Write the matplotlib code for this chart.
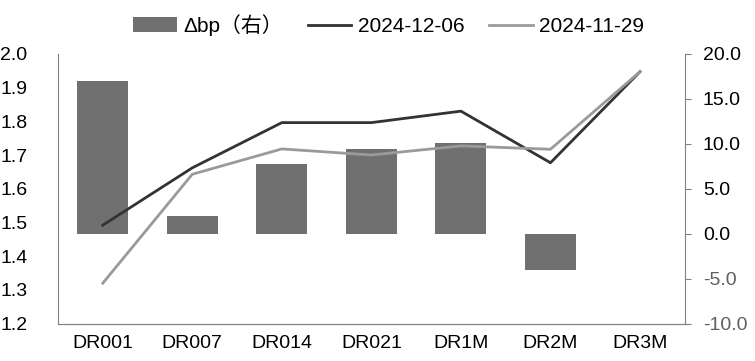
import numpy as np
from matplotlib import pyplot as plt

plt.rcParams['font.family'] = ['Liberation Sans', 'Noto Sans CJK SC', 'DejaVu Sans']
plt.rcParams['font.size'] = 14

# data
tenors = ['DR001', 'DR007', 'DR014', 'DR021', 'DR1M', 'DR2M', 'DR3M']
rate_1206 = [1.492, 1.662, 1.796, 1.796, 1.830, 1.677, 1.947]
rate_1129 = [1.320, 1.643, 1.718, 1.700, 1.727, 1.717, 1.947]
delta_bp = [17.0, 2.0, 7.7, 9.4, 10.1, -4.0, 0.0]

left_ticks = [1.2, 1.3, 1.4, 1.5, 1.6, 1.7, 1.8, 1.9, 2.0]
right_ticks = [-10, -5, 0, 5, 10, 15, 20]

fig = plt.figure(figsize=(7.55, 3.61), dpi=100)
ax = fig.add_axes([0.0768, 0.1033, 0.8302, 0.7477])
ax2 = ax.twinx()

x = np.arange(len(tenors))

# bars on right axis, drawn behind lines
ax2.bar(x, delta_bp, width=0.57, color='#707070', label='Δbp（右）', zorder=1)
ax2.set_ylim(-10, 20)
ax2.set_yticks(right_ticks)
ax2.set_yticklabels(['%.1f' % v for v in right_ticks])
for lbl, v in zip(ax2.get_yticklabels(), right_ticks):
    if v < 0:
        lbl.set_color('#606060')

ax.set_zorder(ax2.get_zorder() + 1)
ax.patch.set_visible(False)
l1, = ax.plot(x, rate_1206, color='#333333', lw=2.0, label='2024-12-06')
l2, = ax.plot(x, rate_1129, color='#9a9a9a', lw=2.0, label='2024-11-29')
ax.set_ylim(1.2, 2.0)
ax.set_yticks(left_ticks)
ax.set_yticklabels(['%.1f' % v for v in left_ticks])
ax.set_xlim(-0.5, len(tenors) - 0.5)
ax.set_xticks(x)
ax.set_xticklabels(tenors)

ax.tick_params(axis='y', length=0, pad=22)
ax.tick_params(axis='x', length=0, pad=8)
ax2.tick_params(axis='y', length=4, color='#808080', pad=9)

for a in (ax, ax2):
    a.spines['top'].set_visible(False)
    a.spines['left'].set_color('#808080')
    a.spines['right'].set_color('#808080')
    a.spines['bottom'].set_color('#808080')
ax.spines['right'].set_visible(False)
ax2.spines['left'].set_visible(False)

h2, lab2 = ax2.get_legend_handles_labels()
fig.legend(h2 + [l1, l2], lab2 + ['2024-12-06', '2024-11-29'],
           loc='center', bbox_to_anchor=(0.5146, 0.931), ncol=3, frameon=False,
           handlelength=2.1, handletextpad=0.3, columnspacing=1.2,
           fontsize=15)

fig.savefig('out.png', dpi=100)
